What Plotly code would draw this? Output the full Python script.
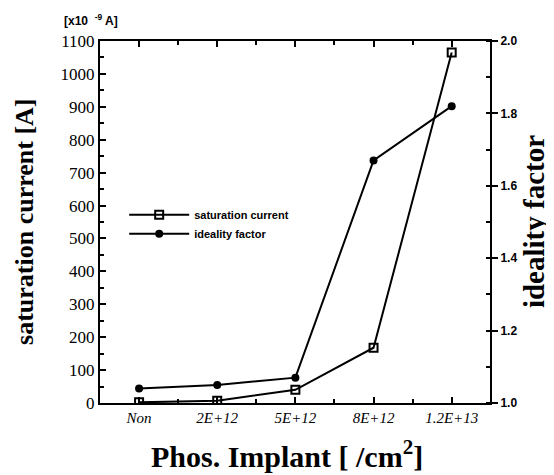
import plotly.graph_objects as go

categories = ["Non", "2E+12", "5E+12", "8E+12", "1.2E+13"]
sat_current = [2, 7, 40, 168, 1065]
ideality = [1.04, 1.05, 1.07, 1.67, 1.82]
x_idx = list(range(len(categories)))

fig = go.Figure()
fig.add_trace(go.Scatter(
    x=x_idx, y=sat_current, name="saturation current", mode="lines+markers",
    line=dict(color="black", width=2),
    marker=dict(symbol="square-open", size=8, color="black", line=dict(width=2)),
))
fig.add_trace(go.Scatter(
    x=x_idx, y=ideality, name="ideality factor", mode="lines+markers", yaxis="y2",
    line=dict(color="black", width=2),
    marker=dict(symbol="circle", size=8, color="black"),
))

serif = "Liberation Serif"
sans = "Liberation Sans"

fig.update_layout(
    width=546, height=467,
    margin=dict(l=92, r=64, t=33, b=72),
    paper_bgcolor="white", plot_bgcolor="white",
    showlegend=True,
    legend=dict(x=0.062, y=0.56, xanchor="left", yanchor="top", bgcolor="rgba(0,0,0,0)",
                font=dict(family=sans, size=11, color="black", weight="bold"),
                itemwidth=60, tracegroupgap=2),
    xaxis=dict(
        range=[-0.5, 4.49], tickvals=x_idx, ticktext=categories,
        ticks="inside", ticklen=6, tickwidth=2, tickcolor="black",
        showline=True, linecolor="black", linewidth=2, mirror="ticks",
        showgrid=False, zeroline=False,
        minor=dict(dtick=0.5, tick0=0.5, ticks="inside", ticklen=4, tickwidth=1.5, tickcolor="black"),
        tickfont=dict(family=serif, size=15, color="black", style="italic"),
    ),
    yaxis=dict(
        range=[0, 1100], dtick=100, tick0=0,
        ticks="inside", ticklen=6, tickwidth=2, tickcolor="black",
        showline=True, linecolor="black", linewidth=2,
        showgrid=False, zeroline=False,
        minor=dict(dtick=50, ticks="inside", ticklen=4, tickwidth=1.5, tickcolor="black"),
        tickfont=dict(family=serif, size=17, color="black"),
    ),
    yaxis2=dict(
        range=[1.0, 2.0], dtick=0.2, tick0=1.0, tickformat=".1f",
        overlaying="y", side="right",
        ticks="outside", ticklen=6, tickwidth=2, tickcolor="black",
        showline=True, linecolor="black", linewidth=2,
        showgrid=False, zeroline=False,
        minor=dict(dtick=0.1, ticks="inside", ticklen=4, tickwidth=1.5, tickcolor="black"),
        tickfont=dict(family=sans, size=12, color="black", weight="bold"),
    ),
    annotations=[
        dict(text="[x10  <sup>-9</sup> A]", xref="paper", yref="paper", x=-0.023, y=1.058,
             xanchor="center", yanchor="middle", showarrow=False,
             font=dict(family=sans, size=12, color="black", weight="bold")),
        dict(text="saturation current [A]", xref="paper", yref="paper", x=-0.195, y=0.5,
             xanchor="center", yanchor="middle", textangle=-90, showarrow=False,
             font=dict(family=serif, size=26, color="black", weight="bold")),
        dict(text="ideality factor", xref="paper", yref="paper", x=1.113, y=0.5,
             xanchor="center", yanchor="middle", textangle=-90, showarrow=False,
             font=dict(family=serif, size=29, color="black", weight="bold")),
        dict(text="Phos. Implant [ /cm<sup>2</sup>]", xref="paper", yref="paper", x=0.48, y=-0.14,
             xanchor="center", yanchor="middle", showarrow=False,
             font=dict(family=serif, size=30, color="black", weight="bold")),
    ],
)

fig.write_html("out.html")
